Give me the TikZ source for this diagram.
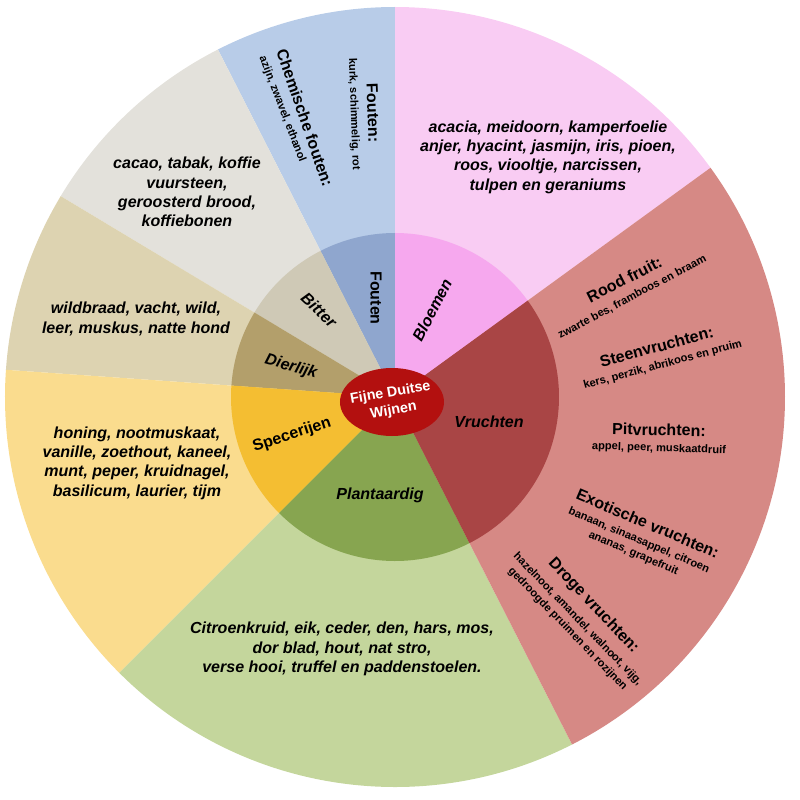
\documentclass[tikz,border=0pt]{standalone}
\usepackage{fontspec}
\setmainfont{Liberation Sans}
\usepackage{tikz}
\usetikzlibrary{positioning}
\definecolor{bloemA}{HTML}{F9CCF3}
\definecolor{bloemB}{HTML}{F6A8EE}
\definecolor{foutA}{HTML}{B8CCE8}
\definecolor{foutB}{HTML}{8FA6CE}
\definecolor{bitterA}{HTML}{E3E1DB}
\definecolor{bitterB}{HTML}{CFC9B6}
\definecolor{dierA}{HTML}{DDD3B1}
\definecolor{dierB}{HTML}{B39F6B}
\definecolor{specA}{HTML}{FADC8E}
\definecolor{specB}{HTML}{F4BE32}
\definecolor{plantA}{HTML}{C4D69C}
\definecolor{plantB}{HTML}{87A550}
\definecolor{vruchtA}{HTML}{D68985}
\definecolor{vruchtB}{HTML}{A94545}
\definecolor{wijnrood}{HTML}{B3100F}

\begin{document}
\begin{tikzpicture}[
  outertxt/.style={font=\fontsize{11.4}{13.8}\selectfont\bfseries\itshape,align=center},
  innertxt/.style={font=\fontsize{11.4}{13.8}\selectfont\bfseries\itshape},
  headtxt/.style={font=\fontsize{11.4}{13.8}\selectfont\bfseries},
  subtxt/.style={font=\fontsize{7.9}{10}\selectfont\bfseries,align=center}]
\useasboundingbox (-9.875,-10.075) rectangle (10.125,9.925);
\fill[bloemA] (0,0) -- (36:9.75) arc[start angle=36,end angle=90,radius=9.75] -- cycle;
\fill[foutA] (0,0) -- (90:9.75) arc[start angle=90,end angle=117,radius=9.75] -- cycle;
\fill[bitterA] (0,0) -- (117:9.75) arc[start angle=117,end angle=149,radius=9.75] -- cycle;
\fill[dierA] (0,0) -- (149:9.75) arc[start angle=149,end angle=176,radius=9.75] -- cycle;
\fill[specA] (0,0) -- (176:9.75) arc[start angle=176,end angle=225,radius=9.75] -- cycle;
\fill[plantA] (0,0) -- (225:9.75) arc[start angle=225,end angle=297,radius=9.75] -- cycle;
\fill[vruchtA] (0,0) -- (297:9.75) arc[start angle=297,end angle=396,radius=9.75] -- cycle;
\fill[bloemB] (0,0) -- (36:4.1) arc[start angle=36,end angle=90,radius=4.1] -- cycle;
\fill[foutB] (0,0) -- (90:4.1) arc[start angle=90,end angle=117,radius=4.1] -- cycle;
\fill[bitterB] (0,0) -- (117:4.1) arc[start angle=117,end angle=149,radius=4.1] -- cycle;
\fill[dierB] (0,0) -- (149:4.1) arc[start angle=149,end angle=176,radius=4.1] -- cycle;
\fill[specB] (0,0) -- (176:4.1) arc[start angle=176,end angle=225,radius=4.1] -- cycle;
\fill[plantB] (0,0) -- (225:4.1) arc[start angle=225,end angle=297,radius=4.1] -- cycle;
\fill[vruchtB] (0,0) -- (297:4.1) arc[start angle=297,end angle=396,radius=4.1] -- cycle;
\fill[wijnrood] (-0.075,-0.125) ellipse[x radius=1.3,y radius=0.85];
\node[font=\fontsize{10.2}{12.8}\selectfont\bfseries,text=white,align=center,rotate=10] (wijnen) at (-0.075,-0.125) {Fijne Duitse\\Wijnen};
\node[innertxt,rotate=63] (bloemen) at (0.925,2.175) {Bloemen};
\node[headtxt,rotate=-90] (fouten) at (-0.475,2.475) {Fouten};
\node[innertxt,rotate=-43] (bitter) at (-1.9,2.175) {Bitter};
\node[innertxt,rotate=-16] (dierlijk) at (-2.6,0.75) {Dierlijk};
\node[headtxt,rotate=18] (specerijen) at (-2.575,-0.95) {Specerijen};
\node[innertxt] (plantaardig) at (-0.375,-2.45) {Plantaardig};
\node[innertxt] (vruchten) at (2.35,-0.625) {Vruchten};
\node[outertxt] (bloemTxt) at (3.825,6.0) {acacia, meidoorn, kamperfoelie\\anjer, hyacint, jasmijn, iris, pioen,\\roos, viooltje, narcissen,\\tulpen en geraniums};
\node[outertxt] (bitterTxt) at (-5.2,5.125) {cacao, tabak, koffie\\vuursteen,\\geroosterd brood,\\koffiebonen};
\node[outertxt] (dierTxt) at (-6.475,1.95) {wildbraad, vacht, wild,\\leer, muskus, natte hond};
\node[outertxt] (specTxt) at (-6.45,-1.65) {honing, nootmuskaat,\\vanille, zoethout, kaneel,\\munt, peper, kruidnagel,\\basilicum, laurier, tijm};
\node[outertxt] (plantTxt) at (-1.325,-6.3) {Citroenkruid, eik, ceder, den, hars, mos,\\dor blad, hout, nat stro,\\verse hooi, truffel en paddenstoelen.};
\node[headtxt,rotate=-88] (foutKop) at (-0.55,7.1) {Fouten:};
\node[subtxt,rotate=-88] (foutSub) at (-1.03,7.075) {kurk, schimmelig, rot};
\node[headtxt,rotate=-71] (chemKop) at (-2.25,6.975) {Chemische fouten:};
\node[subtxt,rotate=-69] (chemSub) at (-2.82,7.2) {azijn, zwavel, ethanol};
\node[headtxt,rotate=27] (roodKop) at (5.73,2.94) {Rood fruit:};
\node[subtxt,rotate=28] (roodSub) at (5.93,2.5) {zwarte bes, framboos en braam};
\node[headtxt,rotate=15] (steenKop) at (6.54,1.26) {Steenvruchten:};
\node[subtxt,rotate=15] (steenSub) at (6.695,0.8) {kers, perzik, abrikoos en pruim};
\node[headtxt,rotate=-1] (pitKop) at (6.6,-0.82) {Pitvruchten:};
\node[subtxt,rotate=-2] (pitSub) at (6.6,-1.29) {appel, peer, muskaatdruif};
\node[headtxt,rotate=-23] (exoKop) at (6.32,-3.16) {Exotische vruchten:};
\node[subtxt,rotate=-23] (exoSub) at (6.03,-3.75) {banaan, sinaasappel, citroen\\ananas, grapefruit};
\node[headtxt,rotate=-46.5] (drogeKop) at (4.96,-5.22) {Droge vruchten:};
\node[subtxt,rotate=-46] (drogeSub) at (4.44,-5.68) {hazelnoot, amandel, walnoot, vijg,\\gedroogde pruimen en rozijnen};
\end{tikzpicture}
\end{document}
